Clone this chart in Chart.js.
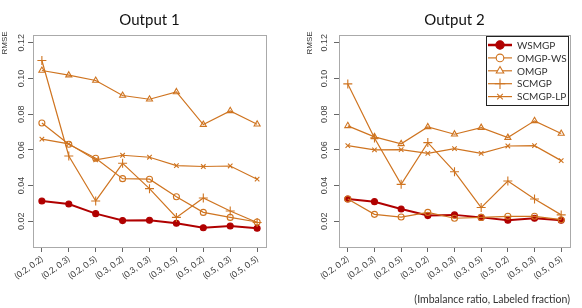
<!DOCTYPE html>
<html>
<head>
<meta charset="utf-8">
<script src="https://cdn.jsdelivr.net/npm/chart.js@4/dist/chart.umd.min.js"></script>
<style>
  html, body { margin: 0; padding: 0; background: #fff; }
  #wrap { position: relative; width: 582px; height: 308px; }
  .box { position: absolute; top: 0; width: 291px; height: 308px; }
</style>
</head>
<body>
<div id="wrap">
  <div class="box" style="left:0"><canvas id="chartOut1"></canvas></div>
  <div class="box" style="left:291px"><canvas id="chartOut2"></canvas></div>
</div>
<script>
// --- Datos ---
const categories = ["(0.2, 0.2)", "(0.2, 0.3)", "(0.2, 0.5)", "(0.3, 0.2)", "(0.3, 0.3)",
                    "(0.3, 0.5)", "(0.5, 0.2)", "(0.5, 0.3)", "(0.5, 0.5)"];
const yTicks = [0.02, 0.04, 0.06, 0.08, 0.10, 0.12];
const seriesNames = ["WSMGP", "OMGP-WS", "OMGP", "SCMGP", "SCMGP-LP"];

// Output 1
const out1_wsmgp  = [0.0314, 0.0297, 0.0243, 0.0204, 0.0206, 0.0189, 0.0164, 0.0174, 0.0161];
const out1_omgpws = [0.0751, 0.0632, 0.0553, 0.0439, 0.0436, 0.0338, 0.0250, 0.0222, 0.0196];
const out1_omgp   = [0.1045, 0.1019, 0.0989, 0.0905, 0.0884, 0.0925, 0.0742, 0.0819, 0.0744];
const out1_scmgp  = [0.1101, 0.0566, 0.0314, 0.0525, 0.0383, 0.0222, 0.0331, 0.0258, 0.0193];
const out1_lp     = [0.0660, 0.0634, 0.0544, 0.0570, 0.0559, 0.0512, 0.0507, 0.0510, 0.0436];

// Output 2
const out2_wsmgp  = [0.0325, 0.0310, 0.0269, 0.0232, 0.0236, 0.0222, 0.0206, 0.0217, 0.0206];
const out2_omgpws = [0.0325, 0.0239, 0.0224, 0.0250, 0.0217, 0.0222, 0.0228, 0.0228, 0.0209];
const out2_omgp   = [0.0735, 0.0673, 0.0634, 0.0729, 0.0688, 0.0725, 0.0669, 0.0763, 0.0692];
const out2_scmgp  = [0.0970, 0.0667, 0.0407, 0.0641, 0.0478, 0.0277, 0.0426, 0.0325, 0.0236];
const out2_lp     = [0.0624, 0.0600, 0.0602, 0.0581, 0.0607, 0.0581, 0.0622, 0.0624, 0.0540];

// --- Estilos ---
const RED = "#b00000";
const ORANGE = "#cf7420";
const styles = [
  { color: RED,    pointStyle: "circle",   radius: 3,   fill: true,  width: 2 },
  { color: ORANGE, pointStyle: "circle",   radius: 3,   fill: false, width: 1.2 },
  { color: ORANGE, pointStyle: "triangle", radius: 3.5, fill: false, width: 1.2 },
  { color: ORANGE, pointStyle: "cross",    radius: 4.5, fill: false, width: 1.2 },
  { color: ORANGE, pointStyle: "crossRot", radius: 3.2, fill: false, width: 1.2 },
];

const buildDatasets = (lists) => lists.map((vals, i) => {
  const s = styles[i];
  return {
    label: seriesNames[i],
    data: vals.map((v, k) => ({ x: k, y: v })),
    borderColor: s.color,
    backgroundColor: s.fill ? s.color : "#fff",
    borderWidth: s.width,
    pointStyle: s.pointStyle,
    pointRadius: s.radius,
    pointBorderWidth: 1.1,
    pointBorderColor: s.color,
    pointBackgroundColor: s.fill ? s.color : "rgba(0,0,0,0)",
    tension: 0,
    clip: false,
    order: 5 - i,
  };
});

// caja gris + etiquetas del eje Y rotadas (estilo R)
const rStylePlugin = {
  id: "rStyle",
  beforeDatasetsDraw(chart, args, opts) {
    const { ctx, chartArea: a } = chart;
    ctx.save();
    ctx.strokeStyle = "#aaa";
    ctx.lineWidth = 1;
    ctx.strokeRect(a.left + 0.5, a.top + 0.5, a.right - a.left, a.bottom - a.top);
    ctx.restore();
  },
  afterDraw(chart, args, opts) {
    const { ctx, chartArea: a, scales } = chart;
    ctx.save();
    ctx.fillStyle = "#444";
    ctx.font = "9px 'Liberation Sans'";
    ctx.textAlign = "center";
    ctx.textBaseline = "middle";
    yTicks.forEach((t) => {
      const y = scales.y.getPixelForValue(t);
      ctx.save();
      ctx.translate(a.left - opts.labelGap, y);
      ctx.rotate(-Math.PI / 2);
      ctx.fillText(t.toFixed(2), 0, 0);
      ctx.restore();
    });
    ctx.font = "8px 'Liberation Sans'";
    ctx.fillStyle = "#333";
    ctx.translate(opts.rmseX, a.top + 8);
    ctx.rotate(-Math.PI / 2);
    ctx.fillText("RMSE", 0, 0);
    ctx.restore();

    if (!opts.legend) return;
    // leyenda
    const lx = a.right - 84, ly = a.top + 1, lw = 82, lh = 69;
    ctx.save();
    ctx.fillStyle = "#fff";
    ctx.fillRect(lx, ly, lw, lh);
    ctx.strokeStyle = "#222";
    ctx.lineWidth = 1;
    ctx.strokeRect(lx + 0.5, ly + 0.5, lw, lh);
    chart.data.datasets.forEach((ds, i) => {
      const s = styles[i];
      const y = ly + 9 + i * 12.9;
      ctx.strokeStyle = s.color;
      ctx.lineWidth = i === 0 ? 2.5 : 1.2;
      ctx.beginPath();
      ctx.moveTo(lx + 2, y);
      ctx.lineTo(lx + 26, y);
      ctx.stroke();
      ctx.fillStyle = s.fill ? s.color : "#fff";
      ctx.lineWidth = 1.1;
      Chart.helpers.drawPoint(ctx, {
        pointStyle: s.pointStyle,
        radius: i === 0 ? 4.2 : s.radius + 0.8,
        borderWidth: 1.1,
        rotation: 0,
      }, lx + 14, y);
      ctx.fillStyle = "#333";
      ctx.font = "10px Lato";
      ctx.textAlign = "left";
      ctx.textBaseline = "middle";
      ctx.fillText(ds.label, lx + 31, y + 0.5);
    });
    ctx.restore();
  },
};

function makeChart(id, title, lists, cfg) {
  const ctx = document.getElementById(id).getContext("2d");
  return new Chart(ctx, {
    type: "line",
    data: { datasets: buildDatasets(lists) },
    options: {
      responsive: true,
      maintainAspectRatio: false,
      animation: false,
      devicePixelRatio: 1,
      layout: { padding: { left: 0, right: cfg.padRight, top: 0, bottom: 0 } },
      scales: {
        x: {
          type: "linear",
          min: -0.33,
          max: 8.33,
          afterBuildTicks: (scale) => { scale.ticks = categories.map((_, i) => ({ value: i })); },
          afterFit: (scale) => { scale.height = 61; },
          ticks: {
            autoSkip: false,
            minRotation: 36,
            maxRotation: 36,
            padding: 2,
            color: "#333",
            font: { family: "Lato", size: 8.5 },
            callback: (v) => categories[v],
          },
          grid: { display: true, drawOnChartArea: false, drawTicks: true, tickLength: 5, color: "#666" },
          border: { display: true, color: "#666", width: 1 },
          title: {
            display: cfg.xTitle,
            text: "(Imbalance ratio, Labeled fraction)",
            align: "end",
            color: "#333",
            font: { family: "Lato", size: 10.5 },
            padding: { top: 0, bottom: 2 },
          },
        },
        y: {
          min: 0.0056,
          max: 0.1244,
          afterBuildTicks: (scale) => { scale.ticks = yTicks.map((v) => ({ value: v })); },
          afterFit: (scale) => { scale.width = cfg.yWidth; },
          ticks: { display: false },
          grid: { display: true, drawOnChartArea: false, drawTicks: true, tickLength: 5, color: "#666" },
          border: { display: true, color: "#666", width: 1 },
        },
      },
      plugins: {
        legend: { display: false },
        tooltip: { enabled: false },
        title: {
          display: true,
          text: title,
          fullSize: false,
          color: "#111",
          font: { family: "Lato", size: 15, weight: "normal" },
          padding: { top: 11, bottom: 6 },
        },
        rStyle: { labelGap: cfg.labelGap, rmseX: cfg.rmseX, legend: cfg.legend },
      },
    },
    plugins: [rStylePlugin],
  });
}

makeChart("chartOut1", "Output 1",
  [out1_wsmgp, out1_omgpws, out1_omgp, out1_scmgp, out1_lp],
  { padRight: 25, yWidth: 33, labelGap: 11.5, rmseX: 5, legend: false, xTitle: false });

makeChart("chartOut2", "Output 2",
  [out2_wsmgp, out2_omgpws, out2_omgp, out2_scmgp, out2_lp],
  { padRight: 12, yWidth: 48, labelGap: 14.5, rmseX: 19, legend: true, xTitle: true });
</script>
</body>
</html>
